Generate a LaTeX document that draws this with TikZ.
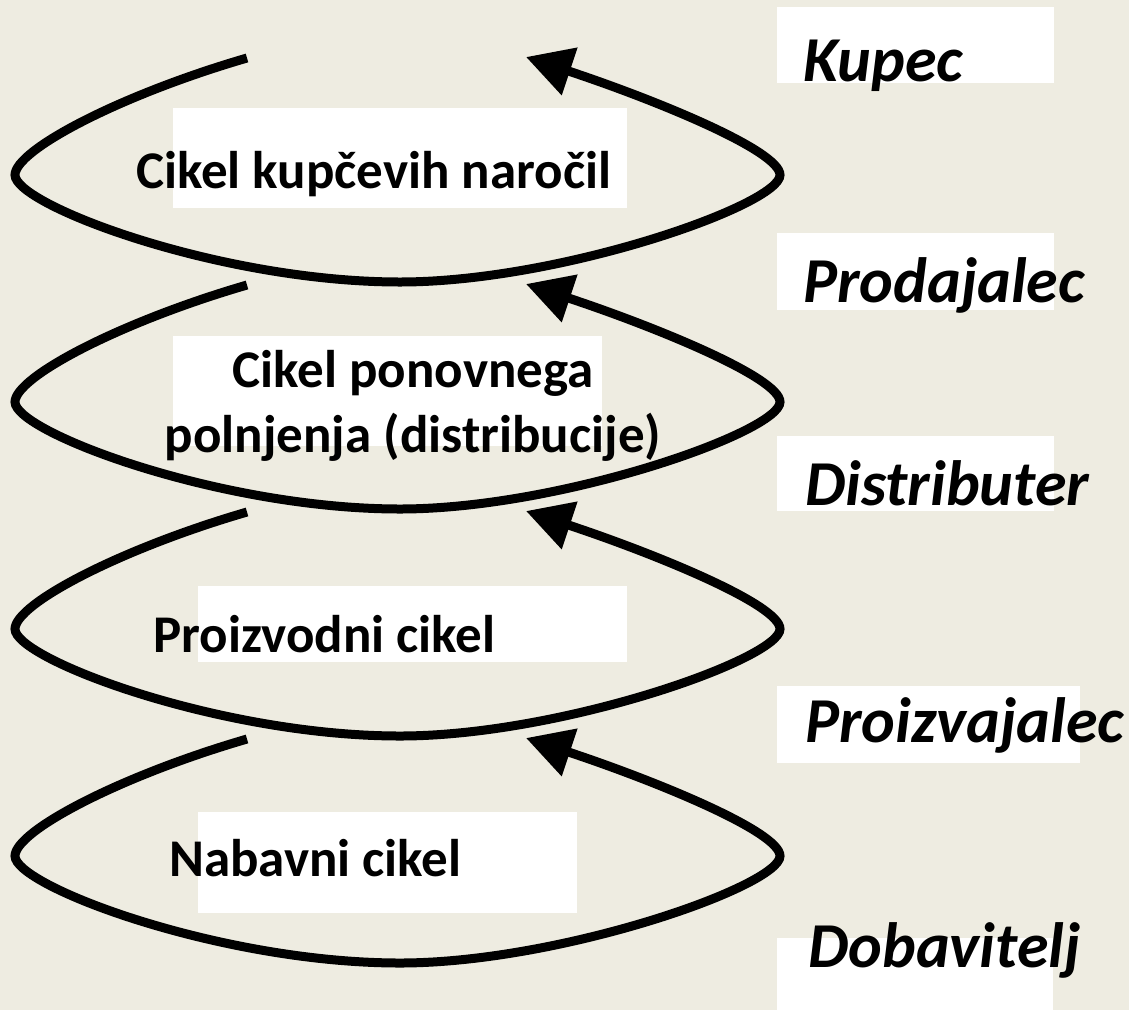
\documentclass[tikz,border=0pt]{standalone}
\usepackage{fontspec}
\setmainfont{Carlito}
\usepackage{tikz}
\usetikzlibrary{arrows.meta}
\definecolor{paper}{HTML}{EEECE1}

\begin{document}
\begin{tikzpicture}[x=1pt,y=-1pt,
  cycle/.style={line width=9pt,-{Triangle[length=46pt,width=48pt]}},
  box/.style={fill=white},
  cyclelabel/.style={inner sep=0pt,font=\bfseries\fontsize{53}{65}\selectfont},
  role/.style={inner sep=0pt,anchor=base west,font=\bfseries\itshape\fontsize{64}{76}\selectfont}]
  \fill[paper] (0,0) rectangle (1129,1010);
  \useasboundingbox (0,0) rectangle (1129,1010);

  % white boxes behind the texts
  \path[box] (173,108) rectangle (627,208);
  \path[box] (173,336) rectangle (602,446);
  \path[box] (198,586) rectangle (627,662);
  \path[box] (198,812) rectangle (577,913);
  \path[box] (777,7) rectangle (1054,83);
  \path[box] (777,233) rectangle (1054,310);
  \path[box] (777,436) rectangle (1054,511);
  \path[box] (777,686) rectangle (1080,763);
  \path[box] (777,938) rectangle (1053,1010);

  % the four cycles
  \foreach \k in {0,...,3}
  {
    \begin{scope}[shift={(0,227*\k)}]
      \coordinate (s\k) at (247,58);
      \coordinate (l\k) at (15,175);
      \coordinate (b\k) at (400,282);
      \coordinate (r\k) at (780,175);
      \coordinate (t\k) at (526,57);
      \draw[cycle] (s\k) .. controls (120,95) and (15,150) .. (l\k)
        .. controls (15,205) and (220,282) .. (b\k)
        .. controls (560,282) and (780,205) .. (r\k)
        .. controls (780,150) and (650,98) .. (t\k);
    \end{scope}
  }

  \node[cyclelabel,anchor=base west] (order) at (136,188) {Cikel kupčevih naročil};
  \node[cyclelabel,anchor=base,align=center] (refill) at (413,452) {Cikel ponovnega\\polnjenja (distribucije)};
  \node[cyclelabel,anchor=base west] (make) at (153,652) {Proizvodni cikel};
  \node[cyclelabel,anchor=base west] (buy) at (169,876) {Nabavni cikel};

  \node[role] (kupec) at (803,81) {Kupec};
  \node[role] (prodajalec) at (803,302) {Prodajalec};
  \node[role] (distributer) at (805,505) {Distributer};
  \node[role] (proizvajalec) at (805,742) {Proizvajalec};
  \node[role] (dobavitelj) at (808,967) {Dobavitelj};
\end{tikzpicture}
\end{document}
